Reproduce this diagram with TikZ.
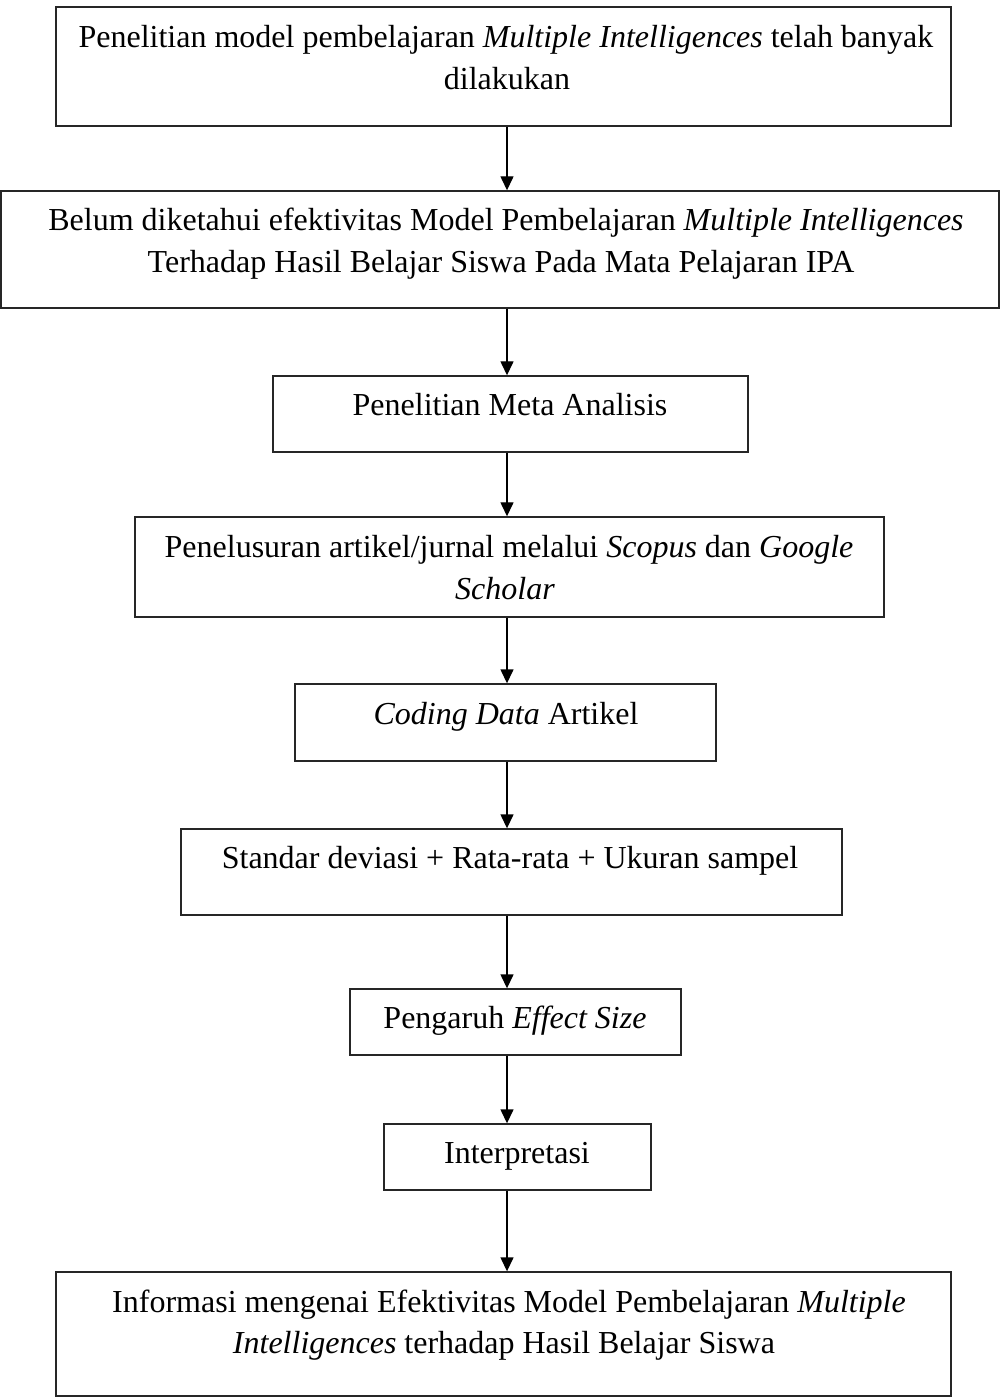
\documentclass[tikz,border=0pt]{standalone}
\usepackage{fontspec}
\setmainfont{Liberation Serif}
\usetikzlibrary{arrows.meta}
\begin{document}
\begin{tikzpicture}[x=0.5pt,y=-0.5pt,
  box/.style={draw=black!85, line width=0.7pt, inner sep=0pt},
  txt/.style={anchor=base, inner sep=0pt, font=\fontsize{16}{21}\selectfont},
  arr/.style={-{Triangle[length=7pt,width=6.5pt]}, line width=0.7pt}]
\useasboundingbox (0,0) rectangle (1000,1400);
% boxes
\node (b1) [box, minimum width=447.5pt, minimum height=59.5pt] at (503.5,66.5) {};
\node (b2) [box, minimum width=499pt,   minimum height=58.5pt] at (500,249.5) {};
\node (b3) [box, minimum width=237.5pt, minimum height=38pt]   at (510.5,414) {};
\node (b4) [box, minimum width=374.5pt, minimum height=50pt]   at (509.5,567) {};
\node (b5) [box, minimum width=210.5pt, minimum height=38.5pt] at (505.5,722.5) {};
\node (b6) [box, minimum width=330.5pt, minimum height=43pt]   at (511.5,872) {};
\node (b7) [box, minimum width=165.5pt, minimum height=33pt]   at (515.5,1022) {};
\node (b8) [box, minimum width=133.5pt, minimum height=33pt]   at (517.5,1157) {};
\node (b9) [box, minimum width=447.5pt, minimum height=62pt]   at (503.5,1334) {};
% texts
\node (t1a) [txt] at (506,48) {Penelitian model pembelajaran \textit{Multiple Intelligences} telah banyak};
\node (t1b) [txt] at (507,90) {dilakukan};
\node (t2a) [txt] at (506,231) {Belum diketahui efektivitas Model Pembelajaran \textit{Multiple Intelligences}};
\node (t2b) [txt] at (501,273) {Terhadap Hasil Belajar Siswa Pada Mata Pelajaran IPA};
\node (t3) [txt] at (510,416) {Penelitian Meta Analisis};
\node (t4a) [txt] at (509,557) {Penelusuran artikel/jurnal melalui \textit{Scopus} dan \textit{Google}};
\node (t4b) [txt] at (505,599) {\textit{Scholar}};
\node (t5) [txt] at (506,724) {\textit{Coding Data} Artikel};
\node (t6) [txt] at (510,868) {Standar deviasi + Rata-rata + Ukuran sampel};
\node (t7) [txt] at (515,1028) {Pengaruh \textit{Effect Size}};
\node (t8) [txt] at (517,1163) {Interpretasi};
\node (t9a) [txt] at (509,1312) {Informasi mengenai Efektivitas Model Pembelajaran \textit{Multiple}};
\node (t9b) [txt] at (504,1353) {\textit{Intelligences} terhadap Hasil Belajar Siswa};
% connectors
\coordinate (ax) at (507,0);
\draw[arr] (b1.south -| ax) -- (b2.north -| ax);
\draw[arr] (b2.south -| ax) -- (b3.north -| ax);
\draw[arr] (b3.south -| ax) -- (b4.north -| ax);
\draw[arr] (b4.south -| ax) -- (b5.north -| ax);
\draw[arr] (b5.south -| ax) -- (b6.north -| ax);
\draw[arr] (b6.south -| ax) -- (b7.north -| ax);
\draw[arr] (b7.south -| ax) -- (b8.north -| ax);
\draw[arr] (b8.south -| ax) -- (b9.north -| ax);
\end{tikzpicture}
\end{document}
